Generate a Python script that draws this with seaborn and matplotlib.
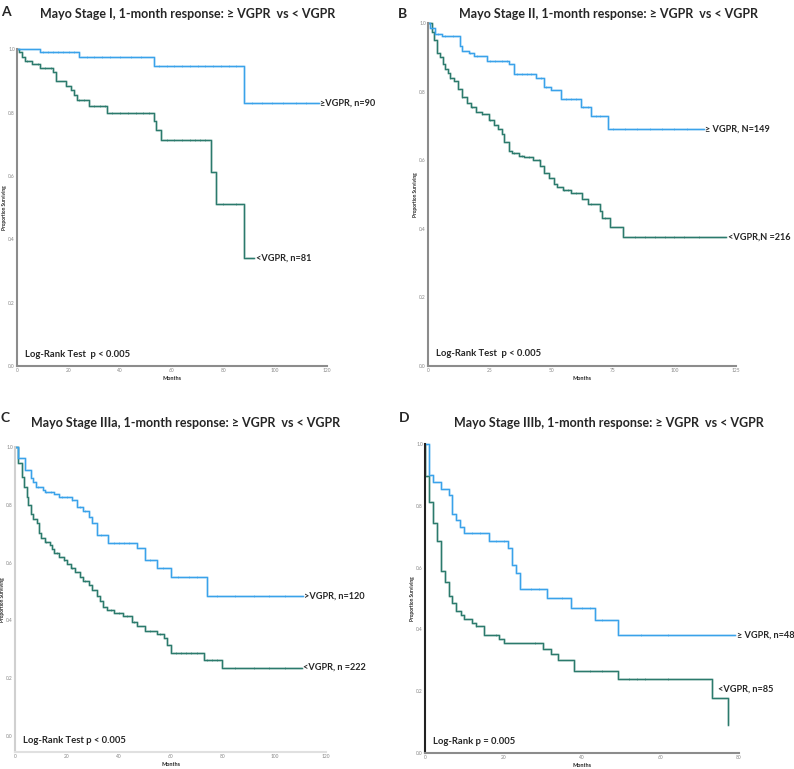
import numpy as np
import pandas as pd
import matplotlib
matplotlib.use("Agg")
import matplotlib.pyplot as plt
import seaborn as sns

# Kaplan-Meier step points (months, proportion surviving)
a_hi_t = [0, 9, 24, 53, 88, 117]
a_hi_s = [1.0, 0.99, 0.975, 0.948, 0.831, 0.831]
a_lo_t = [0, 0.7, 2, 3.2, 6, 9, 14, 15, 19, 21, 22, 23.4, 28, 35, 53, 54, 56, 75, 77, 88, 92]
a_lo_s = [1.0, 0.99, 0.977, 0.964, 0.954, 0.94, 0.927, 0.899, 0.885, 0.87, 0.854, 0.84,
          0.822, 0.80, 0.775, 0.745, 0.714, 0.612, 0.51, 0.34, 0.34]

b_hi_t = [0, 1, 3, 5.7, 13, 14, 16.5, 18.8, 24, 33, 35, 44, 47, 50, 54, 62, 66, 73, 112]
b_hi_s = [1.0, 0.985, 0.969, 0.963, 0.934, 0.919, 0.912, 0.905, 0.888, 0.880, 0.852,
          0.839, 0.815, 0.806, 0.778, 0.755, 0.73, 0.692, 0.692]
b_lo_t = [0, 1.5, 2.6, 3.6, 5, 6, 7, 8, 9, 10.4, 12, 13.8, 15.8, 17.4, 19.3, 21.9, 24.6,
          26.6, 28.6, 30, 31, 32.7, 34, 37, 39, 42.8, 45.3, 47, 49, 51, 52.3, 54.6, 58,
          62.7, 65, 69.9, 70.8, 74, 79.3, 121]
b_lo_s = [1.0, 0.975, 0.951, 0.912, 0.90, 0.881, 0.867, 0.854, 0.841, 0.832, 0.808, 0.783,
          0.767, 0.755, 0.742, 0.734, 0.718, 0.703, 0.691, 0.676, 0.653, 0.628, 0.621,
          0.613, 0.61, 0.601, 0.582, 0.563, 0.547, 0.531, 0.523, 0.513, 0.504, 0.488,
          0.472, 0.452, 0.433, 0.404, 0.375, 0.375]

c_hi_t = [0, 1.3, 3.9, 6.2, 7.1, 8.1, 10.6, 11.4, 15.2, 17.1, 22, 24, 26.2, 28.4, 29.5,
          31.7, 35.9, 46.9, 50, 54.9, 60.3, 74.2, 111]
c_hi_s = [1.0, 0.961, 0.921, 0.894, 0.878, 0.861, 0.851, 0.843, 0.836, 0.826, 0.817, 0.794,
          0.779, 0.759, 0.736, 0.696, 0.667, 0.65, 0.609, 0.581, 0.552, 0.485, 0.485]
c_lo_t = [0, 1.3, 2.6, 3.5, 4.5, 5.1, 6.2, 7.1, 8.4, 9.3, 9.9, 11.6, 13.3, 14.2, 15.1, 17.1,
          18.7, 20, 21.6, 23.2, 25.1, 26.2, 28.4, 29.6, 31.8, 32.8, 34.1, 35.4, 38, 41.8,
          45, 47, 50.2, 54.7, 57.3, 58.6, 60.1, 72.7, 79.8, 110.6]
c_lo_s = [1.0, 0.946, 0.895, 0.863, 0.826, 0.80, 0.768, 0.751, 0.738, 0.704, 0.684, 0.673,
          0.661, 0.647, 0.635, 0.621, 0.609, 0.596, 0.581, 0.569, 0.552, 0.535, 0.521,
          0.506, 0.485, 0.468, 0.448, 0.437, 0.427, 0.414, 0.396, 0.381, 0.362, 0.353,
          0.339, 0.316, 0.287, 0.264, 0.237, 0.237]

d_hi_t = [0, 1.0, 2, 4, 6.1, 7, 7.9, 8.9, 10, 16.2, 21.1, 22.1, 23.1, 24.1, 31.2, 37.2,
          43.2, 49.1, 79.1]
d_hi_s = [1.0, 0.90, 0.876, 0.856, 0.835, 0.773, 0.754, 0.730, 0.711, 0.686, 0.662, 0.61,
          0.584, 0.530, 0.502, 0.47, 0.43, 0.383, 0.383]
d_lo_t = [0, 0.05, 1.0, 2, 3, 4, 5.1, 6, 7, 7.9, 9.1, 10, 11.9, 13, 15.1, 18.9, 20, 30,
          32.1, 34, 38, 49.1, 73.2, 77.2]
d_lo_s = [1.0, 0.897, 0.813, 0.743, 0.686, 0.589, 0.554, 0.508, 0.484, 0.459, 0.446, 0.435,
          0.422, 0.41, 0.383, 0.368, 0.356, 0.336, 0.32, 0.302, 0.265, 0.241, 0.179, 0.09]

# censoring marks (months)
a_hi_cens = [10, 12, 14, 16, 18, 20, 22, 27, 30, 33, 36, 40, 44, 48, 55, 58, 61, 64, 67, 70,
             73, 76, 79, 82, 85, 91, 95, 99, 103, 108, 112]
a_lo_cens = [4, 8, 11, 13, 24, 26, 30, 32, 34, 37, 40, 43, 46, 49, 51, 58, 61, 64, 67, 69,
             71, 73, 80, 85]
b_hi_cens = [4, 7, 10, 17, 20, 25, 27, 30, 32, 36, 38, 40, 42, 46, 48, 56, 58, 60, 63, 65,
             68, 70, 75, 80, 85, 90, 95, 100, 105]
b_lo_cens = [9, 14, 18, 22, 25, 35, 38, 41, 45, 55, 57, 60, 66, 72, 84, 88, 92, 96, 100, 104, 110]
c_hi_cens = [9, 12, 14, 18, 20, 22, 25, 27, 33, 38, 40, 42, 44, 52, 57, 63, 67, 70, 78, 85,
             92, 98, 104]
c_lo_cens = [12, 16, 19, 22, 27, 37, 40, 43, 46, 52, 56, 62, 64, 66, 68, 70, 74, 76, 78, 85,
             92, 98, 104]
d_hi_cens = [12, 14, 18, 20, 27, 29, 35, 40, 42, 45, 55, 62]
d_lo_cens = [13, 18, 28, 42, 45, 52, 54, 56, 62]

titles = ["Mayo Stage I, 1-month response: \u2265 VGPR  vs < VGPR",
          "Mayo Stage II, 1-month response: \u2265 VGPR  vs < VGPR",
          "Mayo Stage IIIa, 1-month response: \u2265 VGPR  vs < VGPR",
          "Mayo Stage IIIb, 1-month response: \u2265 VGPR  vs < VGPR"]
letters = ["A", "B", "C", "D"]
hi_labels = ["\u2265VGPR, n=90", "\u2265 VGPR, N=149", ">VGPR, n=120", "\u2265 VGPR, n=48"]
lo_labels = ["<VGPR, n=81", "<VGPR,N =216", "<VGPR, n =222", "<VGPR, n=85"]
pvals = ["Log-Rank Test  p < 0.005", "Log-Rank Test  p < 0.005",
         "Log-Rank Test p < 0.005", "Log-Rank p = 0.005"]
xmax = [120, 125, 120, 80]
xstep = [20, 25, 20, 20]

BLUE = "#3aa2ea"
TEAL = "#2b7a6c"

sns.set_style("white")
plt.rcParams['font.family'] = ['Lato', 'DejaVu Sans']

fig = plt.figure(figsize=(7.94, 7.69), dpi=100)

# axes boxes in figure fraction [left, bottom, width, height]
boxes = [[0.0214, 0.524, 0.390, 0.412],
         [0.539, 0.524, 0.388, 0.446],
         [0.0189, 0.0221, 0.392, 0.3966],
         [0.5353, 0.0208, 0.3954, 0.4018]]
ylims = [(0, 1.0), (0, 1.0), (-0.055, 1.0), (0, 1.0)]

curves = [(a_hi_t, a_hi_s, a_lo_t, a_lo_s, a_hi_cens, a_lo_cens),
          (b_hi_t, b_hi_s, b_lo_t, b_lo_s, b_hi_cens, b_lo_cens),
          (c_hi_t, c_hi_s, c_lo_t, c_lo_s, c_hi_cens, c_lo_cens),
          (d_hi_t, d_hi_s, d_lo_t, d_lo_s, d_hi_cens, d_lo_cens)]

spine_colors = ["#8c8c8c", "#8c8c8c", "#d0d0d0", "#222222"]


def surv_at(times, surv, pts):
    idx = np.searchsorted(times, pts, side='right') - 1
    return np.asarray(surv)[idx]


for i, (ht, hs, lt, ls, hc, lc) in enumerate(curves):
    ax = fig.add_axes(boxes[i])
    for t, s, cens, col in [(lt, ls, lc, TEAL), (ht, hs, hc, BLUE)]:
        df = pd.DataFrame({"Months": t, "Surv": s})
        # soft halo under each curve, like the scanned original
        sns.lineplot(data=df, x="Months", y="Surv", drawstyle='steps-post', color=col,
                     lw=1.9, alpha=0.3, estimator=None, sort=False, ax=ax, clip_on=False)
        sns.lineplot(data=df, x="Months", y="Surv", drawstyle='steps-post', color=col,
                     lw=0.9, estimator=None, sort=False, ax=ax, clip_on=False)
        ax.scatter(cens, surv_at(t, s, cens), marker='|', s=4, color=col, lw=0.4, zorder=3)

    ax.set_xlim(0, xmax[i])
    ax.set_ylim(*ylims[i])
    ax.set_xticks(np.arange(0, xmax[i] + 1, xstep[i]))
    ax.set_yticks(np.arange(0, 1.01, 0.2))
    ax.set_yticklabels([f"{v:.1f}" for v in np.arange(0, 1.01, 0.2)])
    ax.tick_params(axis='both', length=0, labelsize=3.5, labelcolor="#888888", pad=1.5)
    ax.set_xlabel("Months", fontsize=4, fontweight='bold', labelpad=2)
    ax.set_ylabel("Proportion Surviving", fontsize=3.5, fontweight='bold', labelpad=1)
    for side in ['top', 'right']:
        ax.spines[side].set_visible(False)
    ax.spines['left'].set_color(spine_colors[i])
    ax.spines['left'].set_linewidth(1.5)
    ax.spines['bottom'].set_color("#8c8c8c" if i != 2 else "#e0e0e0")
    ax.spines['bottom'].set_linewidth(1.5)

    ax.annotate(hi_labels[i], (ht[-1], hs[-1]), xytext=(1, 0), textcoords='offset points',
                fontsize=6.6, fontweight='bold', va='center', ha='left', annotation_clip=False)
    if i == 3:
        ax.annotate(lo_labels[i], (lt[-2], ls[-2]), xytext=(4, 6), textcoords='offset points',
                    fontsize=6.6, fontweight='bold', va='center', ha='left', annotation_clip=False)
    else:
        ax.annotate(lo_labels[i], (lt[-1], ls[-1]), xytext=(1, 0), textcoords='offset points',
                    fontsize=6.6, fontweight='bold', va='center', ha='left', annotation_clip=False)
    ax.text(0.025, 0.037, pvals[i], transform=ax.transAxes,
            fontsize=6.8, fontweight='bold', va='center', ha='left')

# titles and panel letters
title_pos = [(0.236, 0.982), (0.767, 0.982), (0.234, 0.450), (0.767, 0.450)]
letter_pos = [(0.001, 0.985), (0.501, 0.982), (0.001, 0.456), (0.502, 0.456)]
for i in range(4):
    fig.text(*title_pos[i], titles[i], fontsize=9, fontweight='bold', ha='center', va='center')
    fig.text(*letter_pos[i], letters[i], fontsize=10, fontweight='bold', ha='left', va='center')

fig.savefig("out.png", dpi=100)
